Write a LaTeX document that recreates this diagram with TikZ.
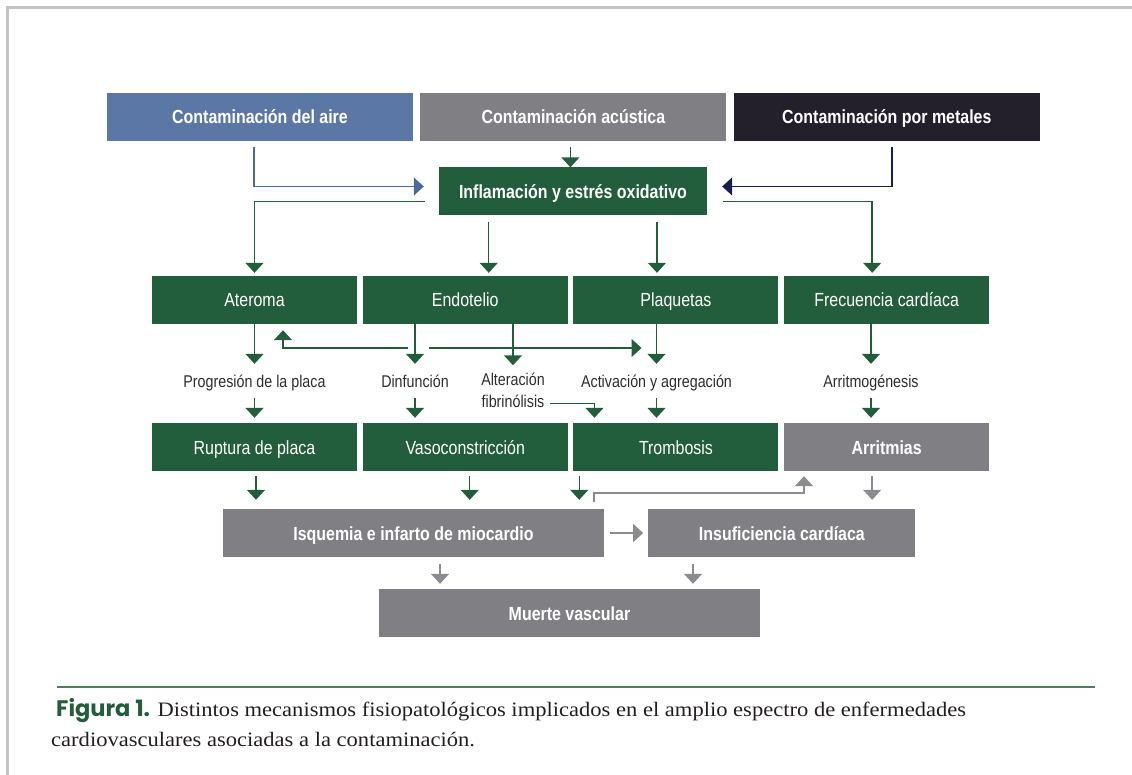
\documentclass[tikz,border=0pt]{standalone}
\usepackage{fontspec}
\newfontfamily\condfont[FakeStretch=0.84]{Liberation Sans}
\newfontfamily\figfont{Poppins}
\newfontfamily\capfont[FakeStretch=1.1]{Liberation Serif}
\usetikzlibrary{arrows.meta,positioning}

\definecolor{airblue}{HTML}{5B77A5}
\definecolor{noisegray}{HTML}{808084}
\definecolor{metaldark}{HTML}{231F2B}
\definecolor{boxgreen}{HTML}{225E3C}
\definecolor{effgray}{HTML}{808084}
\definecolor{arrowgray}{HTML}{8C8C90}
\definecolor{airline}{HTML}{4D689C}
\definecolor{metalline}{HTML}{16204E}
\definecolor{framegray}{HTML}{C4C4C4}
\definecolor{rulegreen}{HTML}{4F7D62}
\definecolor{labeltext}{HTML}{2E2E2E}
\definecolor{captext}{HTML}{231F20}

\tikzset{
  box/.style={minimum height=48pt,inner sep=0pt,text height=14pt,text depth=0pt,text=white,
    font=\condfont\fontsize{19}{22}\selectfont},
  boldbox/.style={box,font=\condfont\bfseries\fontsize{19}{22}\selectfont},
  sourcebox/.style={boldbox,minimum width=306pt},
  greenbox/.style={box,fill=boxgreen,minimum width=205pt},
  effectbox/.style={boldbox,fill=effgray},
  lbl/.style={inner sep=0pt,text=labeltext,align=center,font=\condfont\fontsize{17}{22}\selectfont},
  onelbl/.style={lbl,text height=12pt,text depth=4pt},
  garrow/.style={-{Triangle[width=18pt,length=10pt]},boxgreen,line width=1.5pt},
  grayarrow/.style={-{Triangle[width=18pt,length=10pt]},arrowgray,line width=1.5pt},
  caption/.style={anchor=base west,inner sep=0pt,text=captext,font=\capfont\fontsize{20.5}{30}\selectfont}
}

\begin{document}
\begin{tikzpicture}[x=1pt,y=-1pt]
  \useasboundingbox (0,0) rectangle (1132,775);
  \draw[framegray,line width=3pt] (7,775) -- (7,7.5) -- (1132,7.5);

  % sources
  \node[sourcebox,fill=airblue]                     (air)   at (260,117) {Contaminación del aire};
  \node[sourcebox,fill=noisegray,right=7pt of air]   (noise) {Contaminación acústica};
  \node[sourcebox,fill=metaldark,right=7pt of noise] (metal) {Contaminación por metales};
  \node[boldbox,fill=boxgreen,minimum width=268pt]   (infl)  at (573,191.5) {Inflamación y estrés oxidativo};

  % mechanisms
  \node[greenbox]                       (ater) at (254.5,300) {Ateroma};
  \node[greenbox,right=5.33pt of ater]  (endo) {Endotelio};
  \node[greenbox,right=5.33pt of endo]  (plaq) {Plaquetas};
  \node[greenbox,right=5.33pt of plaq]  (frec) {Frecuencia cardíaca};

  \node[onelbl,anchor=base] (prog)  at (254.5,388) {Progresión de la placa};
  \node[onelbl,anchor=base] (disf)  at (415,388)   {Dinfunción};
  \node[lbl,anchor=base]    (alter) at (513,407)   {Alteración\\fibrinólisis};
  \node[onelbl,anchor=base] (activ) at (656.5,388) {Activación y agregación};
  \node[onelbl,anchor=base] (ritmo) at (871,388)   {Arritmogénesis};

  \node[greenbox]                       (rupt) at (254.5,447) {Ruptura de placa};
  \node[greenbox,right=5.33pt of rupt]  (vaso) {Vasoconstricción};
  \node[greenbox,right=5.33pt of vaso]  (trom) {Trombosis};
  \node[effectbox,minimum width=205pt,right=5.33pt of trom] (arrt) {Arritmias};

  % outcomes
  \node[effectbox,minimum width=381pt]               (isq)    at (413.5,533) {Isquemia e infarto de miocardio};
  \node[effectbox,minimum width=267pt,right=44pt of isq] (insuf) {Insuficiencia cardíaca};
  \node[effectbox,minimum width=381pt]               (muerte) at (569.5,613) {Muerte vascular};

  \draw[-{Triangle[width=18pt,length=10pt]},airline,line width=1.5pt]
    ([xshift=-6pt,yshift=-6pt]air.south) |- ([xshift=-15pt,yshift=5pt]infl.west);
  \draw[-{Triangle[width=18pt,length=10pt]},metalline,line width=1.5pt]
    ([xshift=5pt,yshift=-6pt]metal.south) |- ([xshift=15pt,yshift=5pt]infl.east);
  \draw[garrow,shorten <=6pt] ([xshift=-3pt]noise.south) -- ([xshift=-3pt]noise.south |- infl.north);

  \draw[garrow] ([xshift=-14pt,yshift=-10pt]infl.west) -| ([yshift=3pt]ater.north);
  \draw[garrow] ([xshift=16pt,yshift=-10pt]infl.east) -| ([xshift=-14.5pt,yshift=3pt]frec.north);
  \draw[garrow,shorten <=6.5pt,shorten >=3pt] ([xshift=23.5pt]endo.north |- infl.south) -- ([xshift=23.5pt]endo.north);
  \draw[garrow,shorten <=6.5pt,shorten >=3pt] ([xshift=-19pt]plaq.north |- infl.south) -- ([xshift=-19pt]plaq.north);

  \draw[garrow,shorten >=12pt] (ater.south) -- (prog.north);
  \draw[garrow,shorten >=12pt] (disf.north |- endo.south) -- (disf.north);
  \draw[garrow,shorten >=7pt]  (alter.north |- endo.south) -- (alter.north);
  \draw[garrow,shorten >=12pt] (activ.north |- plaq.south) -- (activ.north);
  \draw[garrow,shorten >=12pt] (ritmo.north |- frec.south) -- (ritmo.north);

  \coordinate (junc) at (415,348);
  \draw[garrow] ([xshift=-7pt]junc) -| ([xshift=28.5pt,yshift=-6pt]ater.south);
  \draw[garrow,shorten <=14pt,shorten >=15pt] (junc) -- (junc -| activ.north);

  \draw[garrow,shorten <=6pt,shorten >=5pt] (prog.south) -- (prog.south |- rupt.north);
  \draw[garrow,shorten <=6pt,shorten >=5pt] (disf.south) -- (disf.south |- vaso.north);
  \draw[garrow,shorten <=6pt,shorten >=5pt] (activ.south) -- (activ.south |- trom.north);
  \draw[garrow,shorten <=6pt,shorten >=5pt] (ritmo.south) -- (ritmo.south |- arrt.north);
  \draw[garrow] ([xshift=5pt,yshift=4pt]alter.south east) -| ([xshift=-81.5pt,yshift=5pt]trom.north);

  \draw[garrow,shorten <=5pt,shorten >=9pt] ([xshift=1.5pt]rupt.south) -- ([xshift=1.5pt]rupt.south |- isq.north);
  \draw[garrow,shorten <=5pt,shorten >=9pt] ([xshift=4.5pt]vaso.south) -- ([xshift=4.5pt]vaso.south |- isq.north);
  \draw[garrow,shorten <=5pt,shorten >=9pt] ([xshift=6pt]trom.south west) -- ([xshift=6pt]trom.south west |- isq.north);
  \draw[grayarrow,shorten <=5pt,shorten >=9pt] ([xshift=-14.5pt]arrt.south) -- ([xshift=-14.5pt]arrt.south |- insuf.north);
  \draw[grayarrow] ([xshift=180.5pt,yshift=7pt]isq.north) -- ++(0,-9) -| ([xshift=20pt,yshift=-5pt]arrt.south west);
  \draw[grayarrow,shorten <=6pt,shorten >=5pt] (isq.east) -- (insuf.west);
  \draw[grayarrow,shorten <=7pt,shorten >=5pt] ([xshift=-129.5pt]muerte.north |- isq.south) -- ([xshift=-129.5pt]muerte.north);
  \draw[grayarrow,shorten <=7pt,shorten >=5pt] ([xshift=123.5pt]muerte.north |- insuf.south) -- ([xshift=123.5pt]muerte.north);

  % caption
  \draw[rulegreen,line width=2pt] (57,687) -- (1095,687);
  \node[caption] (cap1) at (56,716.5)
    {{\figfont\bfseries\fontsize{22.5}{30}\selectfont\color{boxgreen}Figura 1.} Distintos mecanismos fisiopatológicos implicados en el amplio espectro de enfermedades};
  \node[caption] (cap2) at (51,746.5) {cardiovasculares asociadas a la contaminación.};
\end{tikzpicture}
\end{document}
